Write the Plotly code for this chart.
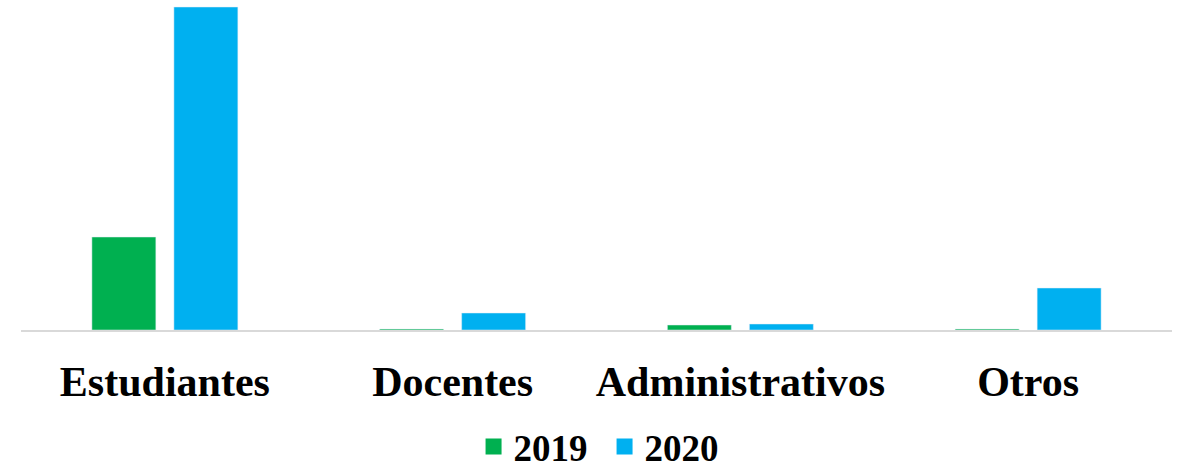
import plotly.graph_objects as go

categorias = ["Estudiantes", "Docentes", "Administrativos", "Otros"]
valores_2019 = [93, 1, 5, 1]
valores_2020 = [323, 17, 6, 42]

VERDE = "#00b050"
AZUL = "#00b0f0"
FUENTE = "Liberation Serif"

fig = go.Figure()
fig.add_trace(go.Bar(name="2019", x=categorias, y=valores_2019, marker_color=VERDE, showlegend=False))
fig.add_trace(go.Bar(name="2020", x=categorias, y=valores_2020, marker_color=AZUL, showlegend=False))
# entradas de leyenda con cuadros grandes
for nombre, color in [("2019", VERDE), ("2020", AZUL)]:
    fig.add_trace(go.Scatter(name=nombre, x=[None], y=[None], mode="markers",
                             marker=dict(symbol="square", size=20, color=color)))

fig.update_layout(
    width=1182, height=472,
    barmode="group", bargap=0.43, bargroupgap=0.22,
    plot_bgcolor="white", paper_bgcolor="white",
    margin=dict(l=21, r=10, t=6, b=142, autoexpand=False),
    font=dict(family=FUENTE, size=36, color="black", weight="bold"),
    showlegend=True,
    legend=dict(orientation="h", x=0.507, xanchor="center", y=-0.265, yanchor="top",
                font=dict(family=FUENTE, size=37, weight="bold"), itemwidth=30,
                entrywidth=86),
)
fig.update_xaxes(showline=True, linecolor="#d9d9d9", linewidth=2, automargin=False,
                 tickfont=dict(family=FUENTE, size=42, weight="bold"),
                 ticklabelstandoff=14, showgrid=False)
fig.update_yaxes(visible=False, range=[0, 324], showgrid=False, zeroline=False, automargin=False)

# quitar el margen del body para que la figura empiece en (0, 0)
fig.write_html("out.html", config={"displayModeBar": False},
               post_script="document.body.style.margin='0px';")
